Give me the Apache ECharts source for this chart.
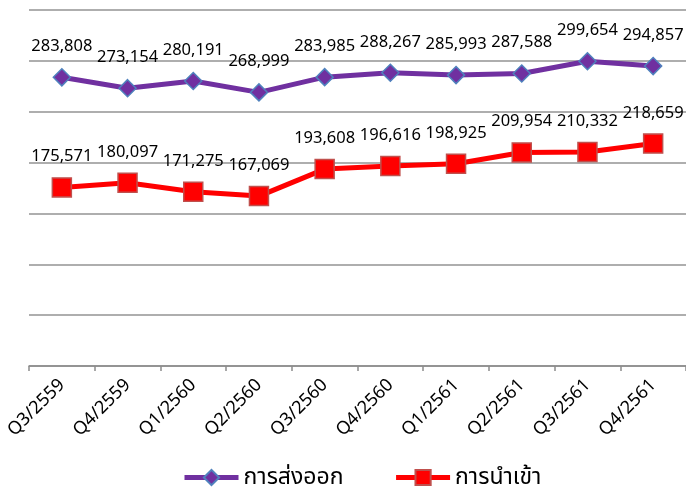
<!DOCTYPE html>
<html>
<head>
<meta charset="utf-8">
<title>การส่งออก การนำเข้า</title>
<script src="https://cdn.jsdelivr.net/npm/echarts@6/dist/echarts.min.js"></script>
<style>
  html,body{margin:0;padding:0;background:#fff}
  #main{width:686px;height:488px}
</style>
</head>
<body>
<div id="main"></div>
<script>
// ข้อมูลรายไตรมาส
var quarters = ['Q3/2559','Q4/2559','Q1/2560','Q2/2560','Q3/2560','Q4/2560','Q1/2561','Q2/2561','Q3/2561','Q4/2561'];
var exportVals = [283808, 273154, 280191, 268999, 283985, 288267, 285993, 287588, 299654, 294857];
var importVals = [175571, 180097, 171275, 167069, 193608, 196616, 198925, 209954, 210332, 218659];
var seriesNames = ['การส่งออก', 'การนำเข้า'];

var font = '"Noto Sans", "Noto Sans Thai", sans-serif';

function fmt(p){
  return p.value.toLocaleString('en-US');
}

var myChart = echarts.init(document.getElementById('main'));
var option = {
  animation: false,
  grid: {left: 29, right: 0, top: 10, bottom: 122},
  legend: {
    bottom: -6,
    left: 177,
    itemWidth: 54,
    itemHeight: 19,
    itemGap: 50,
    lineStyle: {width: 5},
    textStyle: {fontSize: 23, color: '#000', fontFamily: font},
    data: seriesNames
  },
  xAxis: {
    type: 'category',
    boundaryGap: true,
    data: quarters,
    axisLine: {lineStyle: {color: '#8c8c8c', width: 1.5}},
    axisTick: {show: true, length: 5, lineStyle: {color: '#8c8c8c', width: 1.5}},
    axisLabel: {rotate: 45, fontSize: 18, color: '#000', margin: 16, fontFamily: font}
  },
  yAxis: {
    type: 'value',
    min: 0,
    max: 350000,
    interval: 50000,
    axisLabel: {show: false},
    axisLine: {show: false},
    axisTick: {show: false},
    splitLine: {lineStyle: {color: '#939393', width: 1.5}}
  },
  series: [
    {
      name: seriesNames[0],
      type: 'line',
      data: exportVals,
      symbol: 'diamond',
      symbolSize: 17,
      lineStyle: {color: '#7030A0', width: 5},
      itemStyle: {color: '#7030A0', borderColor: '#4F81BD', borderWidth: 1.5},
      label: {show: true, position: 'top', distance: 13, fontSize: 16.5, color: '#000', fontFamily: font, formatter: fmt}
    },
    {
      name: seriesNames[1],
      type: 'line',
      data: importVals,
      symbol: 'rect',
      symbolSize: 19,
      lineStyle: {color: '#FF0000', width: 5},
      itemStyle: {color: '#FF0000', borderColor: '#C0504D', borderWidth: 1.5},
      label: {show: true, position: 'top', distance: 12, fontSize: 16.5, color: '#000', fontFamily: font, formatter: fmt}
    }
  ]
};
myChart.setOption(option);
</script>
</body>
</html>
